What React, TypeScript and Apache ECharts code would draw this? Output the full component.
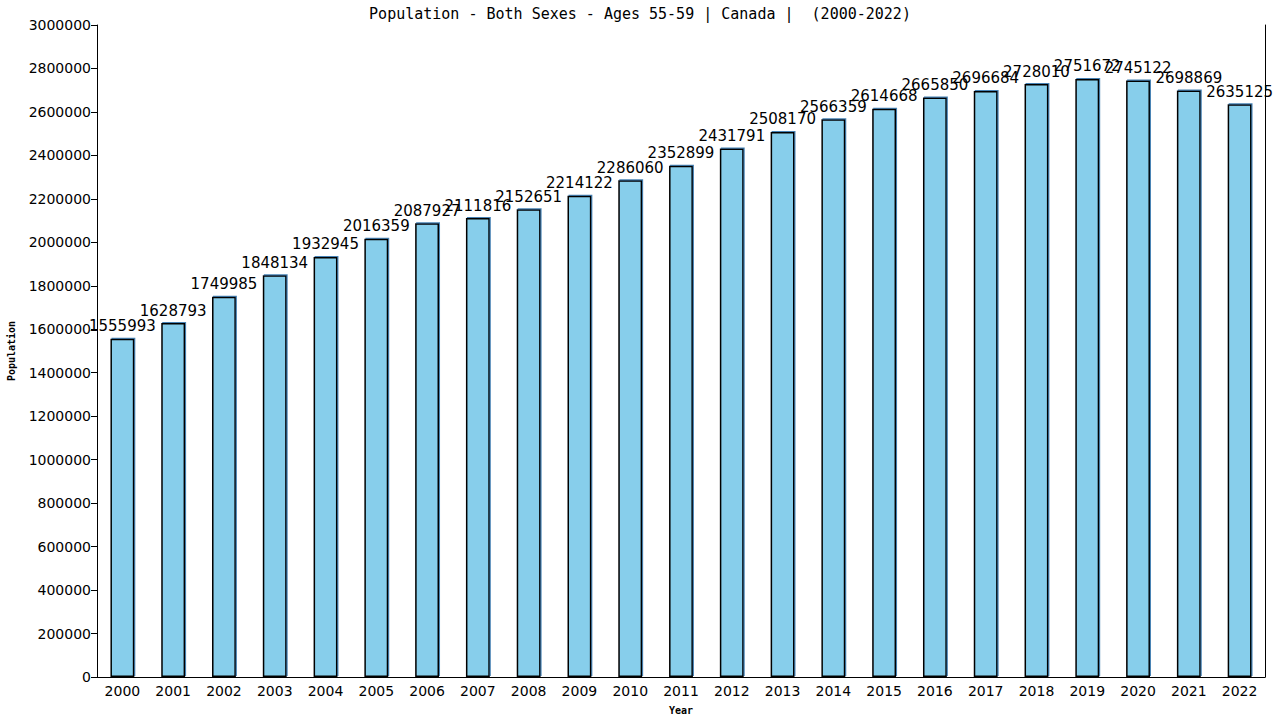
import React, { useRef, useEffect } from 'react'
import * as echarts from 'echarts'

const years = [
  '2000', '2001', '2002', '2003', '2004', '2005', '2006', '2007', '2008', '2009', '2010', '2011',
  '2012', '2013', '2014', '2015', '2016', '2017', '2018', '2019', '2020', '2021', '2022',
]
const population = [
  1555993, 1628793, 1749985, 1848134, 1932945, 2016359, 2087927, 2111816, 2152651, 2214122,
  2286060, 2352899, 2431791, 2508170, 2566359, 2614668, 2665850, 2696684, 2728010, 2751672,
  2745122, 2698869, 2635125,
]

const App: React.FC = () => {
  const chartRef = useRef<HTMLDivElement>(null)

  useEffect(() => {
    if (!chartRef.current) return
    const chart = echarts.init(chartRef.current, null, { renderer: 'svg' })

    const option = {
      animation: false,
      backgroundColor: '#ffffff',
      title: {
        text: 'Population - Both Sexes - Ages 55-59 | Canada |  (2000-2022)',
        left: 'center',
        top: 1,
        textStyle: { fontFamily: 'DejaVu Sans Mono', fontSize: 15, fontWeight: 'normal', color: '#000' },
      },
      grid: { left: 97, right: 15, top: 25, bottom: 43, outerBoundsMode: 'none', containLabel: false },
      xAxis: {
        type: 'category',
        data: years,
        name: 'Year',
        nameLocation: 'middle',
        nameGap: 28,
        nameTextStyle: { fontFamily: 'DejaVu Sans Mono', fontSize: 10, fontWeight: 'bold', color: '#000' },
        axisLine: { lineStyle: { color: '#000' } },
        axisTick: { show: false },
        axisLabel: { color: '#000', fontFamily: 'DejaVu Sans', fontSize: 14, margin: 7 },
      },
      yAxis: [
        {
          type: 'value',
          min: 0,
          max: 3000000,
          interval: 200000,
          name: 'Population',
          nameLocation: 'middle',
          nameGap: 81,
          nameTextStyle: { fontFamily: 'DejaVu Sans Mono', fontSize: 10, fontWeight: 'bold', color: '#000' },
          axisLine: { show: true, lineStyle: { color: '#000' } },
          axisTick: { show: true, length: 6, lineStyle: { color: '#000' } },
          axisLabel: {
            color: '#000',
            fontFamily: 'DejaVu Sans',
            fontSize: 14,
            margin: 6,
            formatter: (v: number) => String(v),
          },
          splitLine: { show: false },
        },
        {
          type: 'value',
          position: 'right',
          min: 0,
          max: 3000000,
          interval: 200000,
          axisLine: { show: true, lineStyle: { color: '#000' } },
          axisTick: { show: false },
          axisLabel: { show: false },
          splitLine: { show: false },
        },
      ],
      series: [
        {
          type: 'bar',
          data: population,
          barWidth: '47%',
          itemStyle: {
            color: '#87ceeb',
            borderColor: '#000',
            borderWidth: 1.5,
            shadowColor: '#4682b4',
            shadowOffsetX: 1,
            shadowOffsetY: -1,
          },
          label: {
            show: true,
            position: 'top',
            distance: 5,
            color: '#000',
            fontFamily: 'DejaVu Sans',
            fontSize: 15,
          },
        },
      ],
    }

    chart.setOption(option)
    return () => {
      chart.dispose()
    }
  }, [])

  return (
    <div
      ref={chartRef}
      style={{ position: 'absolute', left: 0, top: 0, width: 1280, height: 720 }}
    />
  )
}

export default App
